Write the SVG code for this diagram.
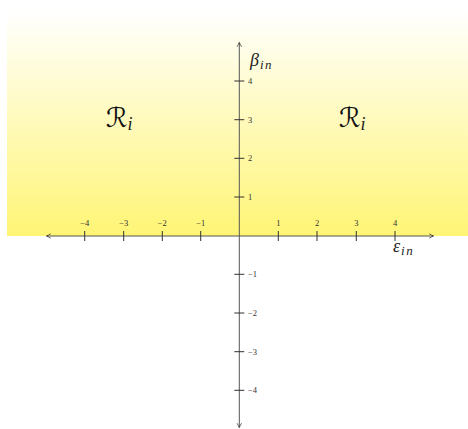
<svg xmlns="http://www.w3.org/2000/svg" width="468" height="429" viewBox="0 0 468 429">
<style>
.ax{stroke:#555;stroke-width:1;fill:none}
.tk{stroke:#333;stroke-width:1}
.tl{font-family:"Liberation Serif",serif;font-size:8.5px;fill:#333}
.lab{font-family:"Liberation Serif",serif;font-style:italic;fill:#222}
.sub{font-size:13px;letter-spacing:1.5px}
.cal{font-family:"DejaVu Serif","DejaVu Sans",serif;fill:#111}
</style>
<defs>
<linearGradient id="bg" x1="0" y1="0" x2="0" y2="1">
<stop offset="0" stop-color="#ffffff"/>
<stop offset="1" stop-color="#fff575"/>
</linearGradient>
<marker id="ah" viewBox="0 0 8 8" refX="6" refY="4" markerWidth="6" markerHeight="6" orient="auto-start-reverse" markerUnits="userSpaceOnUse">
<path d="M1,1 Q4,3 7,4 Q4,5 1,7" fill="none" stroke="#333" stroke-width="1"/>
</marker>
</defs>
<rect x="7" y="10" width="461" height="226" fill="url(#bg)"/>
<g id="axes">
<line class="ax" x1="47" y1="236" x2="433" y2="236" marker-start="url(#ah)" marker-end="url(#ah)"/>
<line class="ax" x1="239.3" y1="427" x2="239.3" y2="43" marker-start="url(#ah)" marker-end="url(#ah)"/>
</g>
<g id="xticks">
<line class="tk" x1="84.7" y1="231" x2="84.7" y2="241"/>
<line class="tk" x1="123.7" y1="231" x2="123.7" y2="241"/>
<line class="tk" x1="162.3" y1="231" x2="162.3" y2="241"/>
<line class="tk" x1="200.7" y1="231" x2="200.7" y2="241"/>
<line class="tk" x1="278.3" y1="231" x2="278.3" y2="241"/>
<line class="tk" x1="317" y1="231" x2="317" y2="241"/>
<line class="tk" x1="356.3" y1="231" x2="356.3" y2="241"/>
<line class="tk" x1="395" y1="231" x2="395" y2="241"/>
<text class="tl" x="84.7" y="226" text-anchor="middle">−4</text>
<text class="tl" x="123.7" y="226" text-anchor="middle">−3</text>
<text class="tl" x="162.3" y="226" text-anchor="middle">−2</text>
<text class="tl" x="200.7" y="226" text-anchor="middle">−1</text>
<text class="tl" x="278.3" y="226" text-anchor="middle">1</text>
<text class="tl" x="317" y="226" text-anchor="middle">2</text>
<text class="tl" x="356.3" y="226" text-anchor="middle">3</text>
<text class="tl" x="395" y="226" text-anchor="middle">4</text>
</g>
<g id="yticks">
<line class="tk" x1="234.3" y1="197" x2="244.3" y2="197"/>
<line class="tk" x1="234.3" y1="158.3" x2="244.3" y2="158.3"/>
<line class="tk" x1="234.3" y1="119.7" x2="244.3" y2="119.7"/>
<line class="tk" x1="234.3" y1="81" x2="244.3" y2="81"/>
<line class="tk" x1="234.3" y1="274.3" x2="244.3" y2="274.3"/>
<line class="tk" x1="234.3" y1="313" x2="244.3" y2="313"/>
<line class="tk" x1="234.3" y1="351.7" x2="244.3" y2="351.7"/>
<line class="tk" x1="234.3" y1="390.3" x2="244.3" y2="390.3"/>
<text class="tl" x="248" y="200">1</text>
<text class="tl" x="248" y="161.3">2</text>
<text class="tl" x="248" y="122.7">3</text>
<text class="tl" x="248" y="84">4</text>
<text class="tl" x="248" y="277.3">−1</text>
<text class="tl" x="248" y="316">−2</text>
<text class="tl" x="248" y="354.7">−3</text>
<text class="tl" x="248" y="393.3">−4</text>
</g>
<g id="beta-label">
<text class="lab" x="250" y="66" font-size="18">β<tspan class="sub" dx="1" dy="3">in</tspan></text>
</g>
<g id="eps-label">
<text class="lab" x="393" y="252" font-size="18">ε<tspan class="sub" dx="1" dy="3">in</tspan></text>
</g>
<g id="region-left">
<text class="cal" x="106" y="127" font-size="27" font-style="italic">ℛ<tspan class="lab" font-size="18" dy="3">i</tspan></text>
</g>
<g id="region-right">
<text class="cal" x="339" y="127" font-size="27" font-style="italic">ℛ<tspan class="lab" font-size="18" dy="3">i</tspan></text>
</g>
</svg>
